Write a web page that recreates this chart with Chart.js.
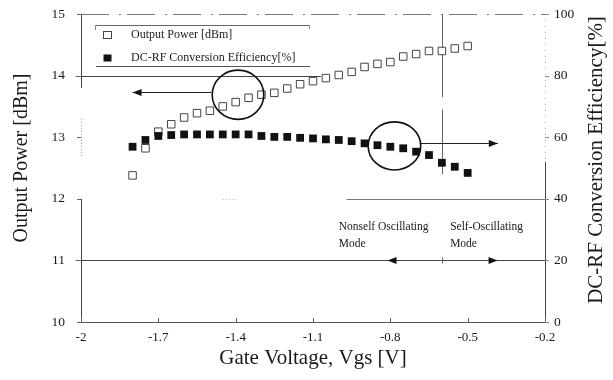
<!DOCTYPE html>
<html>
<head>
<meta charset="utf-8">
<script src="https://cdn.jsdelivr.net/npm/chart.js@4.4.1/dist/chart.umd.min.js"></script>
<style>
html,body{margin:0;padding:0;background:#fff;}
canvas{display:block;}
</style>
</head>
<body>
<canvas id="c" width="613" height="380"></canvas>
<script>
// ---- data ----
const gateVoltage = [-1.8, -1.75, -1.7, -1.65, -1.6, -1.55, -1.5, -1.45, -1.4, -1.35, -1.3, -1.25, -1.2, -1.15, -1.1, -1.05, -1.0, -0.95, -0.9, -0.85, -0.8, -0.75, -0.7, -0.65, -0.6, -0.55, -0.5];
const outputPower = [12.38, 12.82, 13.09, 13.21, 13.32, 13.39, 13.43, 13.50, 13.57, 13.64, 13.69, 13.72, 13.79, 13.86, 13.91, 13.96, 14.01, 14.06, 14.14, 14.19, 14.22, 14.31, 14.35, 14.40, 14.40, 14.44, 14.48];
const efficiency = [56.9, 59.1, 60.4, 60.7, 60.9, 60.9, 60.9, 60.9, 60.9, 60.9, 60.4, 60.1, 60.1, 59.8, 59.6, 59.3, 59.1, 58.7, 58.0, 57.4, 56.9, 56.4, 55.3, 54.2, 51.7, 50.4, 48.4];
const xTickLabels = ['-2', '-1.7', '-1.4', '-1.1', '-0.8', '-0.5', '-0.2'];
const leftTickLabels = ['10', '11', '12', '13', '14', '15'];
const rightTickLabels = ['0', '20', '40', '60', '80', '100'];
const seriesNames = ['Output Power [dBm]', 'DC-RF Conversion Efficiency[%]'];
const xTitle = 'Gate Voltage, Vgs [V]';
const leftTitle = 'Output Power [dBm]';
const rightTitle = 'DC-RF Conversion Efficiency[%]';
const modeLabels = ['Nonself Oscillating', 'Mode', 'Self-Oscillating', 'Mode'];

const FONT = '"Liberation Serif", "Times New Roman", serif';
const INK = '#1a1a1a';

const annot = {
  id: 'annot',
  beforeDatasetsDraw(chart) {
    const {ctx, scales} = chart;
    const sx = scales.x, sy = scales.y, sy1 = scales.y1;
    const X = v => sx.getPixelForValue(v);
    const Y = v => sy.getPixelForValue(v);
    const Y1 = v => sy1.getPixelForValue(v);
    const r = v => Math.round(v) + 0.5;
    const seg = (x1, y1, x2, y2, color, w, dash) => {
      ctx.save();
      ctx.strokeStyle = color; ctx.lineWidth = w || 1;
      ctx.setLineDash(dash || []);
      ctx.beginPath(); ctx.moveTo(x1, y1); ctx.lineTo(x2, y2); ctx.stroke();
      ctx.restore();
    };
    const L = sx.left, R = sx.right;
    // left axis (partially faded as in the scan)
    seg(r(L), Y(15), r(L), Y(13.8), '#444');
    seg(r(L), Y(13.3), r(L), Y(12.7), '#999', 1, [1, 2]);
    seg(r(L), Y(12.0), r(L), Y(10), '#444');
    // right axis
    seg(r(R), Y1(100), r(R), Y1(52), '#aaa', 1, [1, 5]);
    seg(r(R), Y1(52), r(R), Y1(0), '#444');
    // top border
    seg(L, r(Y(15)), R, r(Y(15)), '#777', 1, [28, 10, 2, 6]);
    // bottom axis
    seg(L - 4, r(Y(10)), R, r(Y(10)), '#555');
    // horizontal grid lines
    seg(L - 5, r(Y(14)), X(-1.07), r(Y(14)), '#444');
    seg(X(-0.97), r(Y(12)), R, r(Y(12)), '#777');
    seg(X(-1.45), r(Y(12)), X(-1.40), r(Y(12)), '#bbb', 1, [1, 2]);
    seg(L - 5, r(Y(11)), R + 4, r(Y(11)), '#444');
    // left tick marks
    [10, 11, 12, 13, 14, 15].forEach(v => seg(L - 4, r(Y(v)), L, r(Y(v)), '#666'));
    // right tick marks
    [0, 20, 40, 60, 80, 100].forEach(v => seg(R, r(Y1(v)), R + 4, r(Y1(v)), '#888'));
    // x ticks (inside)
    [-2, -1.7, -1.4, -1.1, -0.8, -0.5, -0.2].forEach(v => seg(r(X(v)), Y(10), r(X(v)), Y(10) - 4, '#666'));
    // vertical boundary line at Vgs = -0.6
    seg(r(X(-0.6)), Y(15), r(X(-0.6)), Y(13.65), '#666');
    seg(r(X(-0.6)), Y(13.45), r(X(-0.6)), Y(12.4), '#666');
    seg(r(X(-0.6)), Y(11.05), r(X(-0.6)), Y(10.95), '#666');

    const arrow = (xa, ya, xb, yb) => {
      seg(xa, ya, xb, yb, '#222', 1);
      const ang = Math.atan2(yb - ya, xb - xa), len = 9, hw = 3.5;
      ctx.save();
      ctx.fillStyle = '#111';
      ctx.beginPath();
      ctx.moveTo(xb, yb);
      ctx.lineTo(xb - len * Math.cos(ang) + hw * Math.sin(ang), yb - len * Math.sin(ang) - hw * Math.cos(ang));
      ctx.lineTo(xb - len * Math.cos(ang) - hw * Math.sin(ang), yb - len * Math.sin(ang) + hw * Math.cos(ang));
      ctx.closePath(); ctx.fill();
      ctx.restore();
    };
    const head = (xb, yb, dir) => {
      ctx.save(); ctx.fillStyle = '#111';
      ctx.beginPath(); ctx.moveTo(xb, yb);
      ctx.lineTo(xb - dir * 9, yb - 3.5); ctx.lineTo(xb - dir * 9, yb + 3.5);
      ctx.closePath(); ctx.fill(); ctx.restore();
    };
    // arrows pointing to the axes
    arrow(X(-1.494), r(Y(13.737)), X(-1.80), r(Y(13.737)));
    arrow(X(-0.682), r(Y(12.909)), X(-0.383), r(Y(12.909)));
    // mode arrows on the 11 dBm line
    head(X(-0.811), r(Y(11)), -1);
    head(X(-0.384), r(Y(11)), 1);

    // mode labels
    ctx.save();
    ctx.fillStyle = INK;
    ctx.font = '11.5px ' + FONT;
    ctx.textAlign = 'left'; ctx.textBaseline = 'middle';
    ctx.fillText(modeLabels[0], X(-1.0), Y(11.544));
    ctx.fillText(modeLabels[1], X(-1.0), Y(11.274));
    ctx.fillText(modeLabels[2], X(-0.568), Y(11.544));
    ctx.fillText(modeLabels[3], X(-0.568), Y(11.274));
    ctx.restore();
  },
  afterDatasetsDraw(chart) {
    const {ctx, scales} = chart;
    const sx = scales.x, sy = scales.y;
    const X = v => sx.getPixelForValue(v);
    const Y = v => sy.getPixelForValue(v);
    const ell = (cx, cy, rx, ry) => {
      ctx.save();
      ctx.strokeStyle = '#111'; ctx.lineWidth = 1.6;
      ctx.beginPath();
      ctx.ellipse(X(cx), Y(cy), Math.abs(X(cx + rx) - X(cx)), Math.abs(Y(cy + ry) - Y(cy)), 0, 0, Math.PI * 2);
      ctx.stroke(); ctx.restore();
    };
    ell(-1.391, 13.689, 0.1, 0.40);
    ell(-0.784, 12.858, 0.102, 0.39);
  },
  afterDraw(chart) {
    const {ctx, chartArea} = chart;
    const ds = chart.data.datasets;
    ctx.save();
    // legend frame
    const seg = (x1, y1, x2, y2, color) => {
      ctx.strokeStyle = color; ctx.lineWidth = 1;
      ctx.beginPath(); ctx.moveTo(x1, y1); ctx.lineTo(x2, y2); ctx.stroke();
    };
    seg(95, 25.5, 310, 25.5, '#666');
    seg(95.5, 25, 95.5, 30, '#888');
    seg(309.5, 25, 309.5, 29, '#888');
    seg(96, 66.5, 310, 66.5, '#555');
    // legend items
    const items = [[ds[1], 35], [ds[0], 58]];
    items.forEach(([d, yy]) => {
      ctx.fillStyle = d.backgroundColor; ctx.strokeStyle = d.borderColor; ctx.lineWidth = 1;
      ctx.fillRect(103.5, yy - 3.5, 8, 7);
      if (d.backgroundColor === '#ffffff') ctx.strokeRect(103.5, yy - 3.5, 8, 7);
      ctx.fillStyle = INK;
      ctx.font = '12px ' + FONT;
      ctx.textAlign = 'left'; ctx.textBaseline = 'middle';
      ctx.fillText(d.label, 131, yy);
    });
    // axis titles
    ctx.fillStyle = INK;
    ctx.textAlign = 'center'; ctx.textBaseline = 'middle';
    ctx.font = '21px ' + FONT;
    ctx.fillText(xTitle, (chartArea.left + chartArea.right) / 2, 358);
    ctx.font = '20px ' + FONT;
    ctx.save(); ctx.translate(22, 158); ctx.rotate(-Math.PI / 2);
    ctx.fillText(leftTitle, 0, 0); ctx.restore();
    ctx.font = '21px ' + FONT;
    ctx.save(); ctx.translate(596, 160); ctx.rotate(-Math.PI / 2);
    ctx.fillText(rightTitle, 0, 0); ctx.restore();
    ctx.restore();
  }
};

new Chart(document.getElementById('c'), {
  type: 'scatter',
  data: {
    datasets: [
      {
        label: seriesNames[1],
        data: gateVoltage.map((v, i) => ({x: v, y: efficiency[i]})),
        yAxisID: 'y1',
        pointStyle: 'rect',
        pointRadius: 5.5,
        backgroundColor: '#111111',
        borderColor: '#111111',
        borderWidth: 0,
        order: 1
      },
      {
        label: seriesNames[0],
        data: gateVoltage.map((v, i) => ({x: v, y: outputPower[i]})),
        yAxisID: 'y',
        pointStyle: 'rect',
        pointRadius: 5.3,
        backgroundColor: '#ffffff',
        borderColor: '#444444',
        borderWidth: 1,
        order: 2
      }
    ]
  },
  plugins: [annot],
  options: {
    responsive: false,
    animation: false,
    devicePixelRatio: 1,
    layout: {padding: {top: 14, left: 0, right: 0, bottom: 0}},
    plugins: {legend: {display: false}, tooltip: {enabled: false}},
    scales: {
      x: {
        type: 'linear', min: -2, max: -0.2,
        border: {display: false},
        grid: {display: false, drawTicks: false},
        ticks: {
          stepSize: 0.3, padding: 8, color: INK,
          font: {family: FONT, size: 13},
          callback: (v, i) => xTickLabels[i]
        },
        afterFit: s => { s.height = 58; s.paddingLeft = 0; s.paddingRight = 0; }
      },
      y: {
        type: 'linear', position: 'left', min: 10, max: 15,
        border: {display: false},
        grid: {display: false, drawTicks: false},
        ticks: {
          stepSize: 1, padding: 16, color: INK,
          font: {family: FONT, size: 13.5},
          callback: (v, i) => leftTickLabels[i]
        },
        afterFit: s => { s.width = 81; s.paddingTop = 0; s.paddingBottom = 0; }
      },
      y1: {
        type: 'linear', position: 'right', min: 0, max: 100,
        border: {display: false},
        grid: {display: false, drawTicks: false},
        ticks: {
          stepSize: 20, padding: 9, color: INK,
          font: {family: FONT, size: 13.5},
          callback: (v, i) => rightTickLabels[i]
        },
        afterFit: s => { s.width = 68; s.paddingTop = 0; s.paddingBottom = 0; }
      }
    }
  }
});
</script>
</body>
</html>
